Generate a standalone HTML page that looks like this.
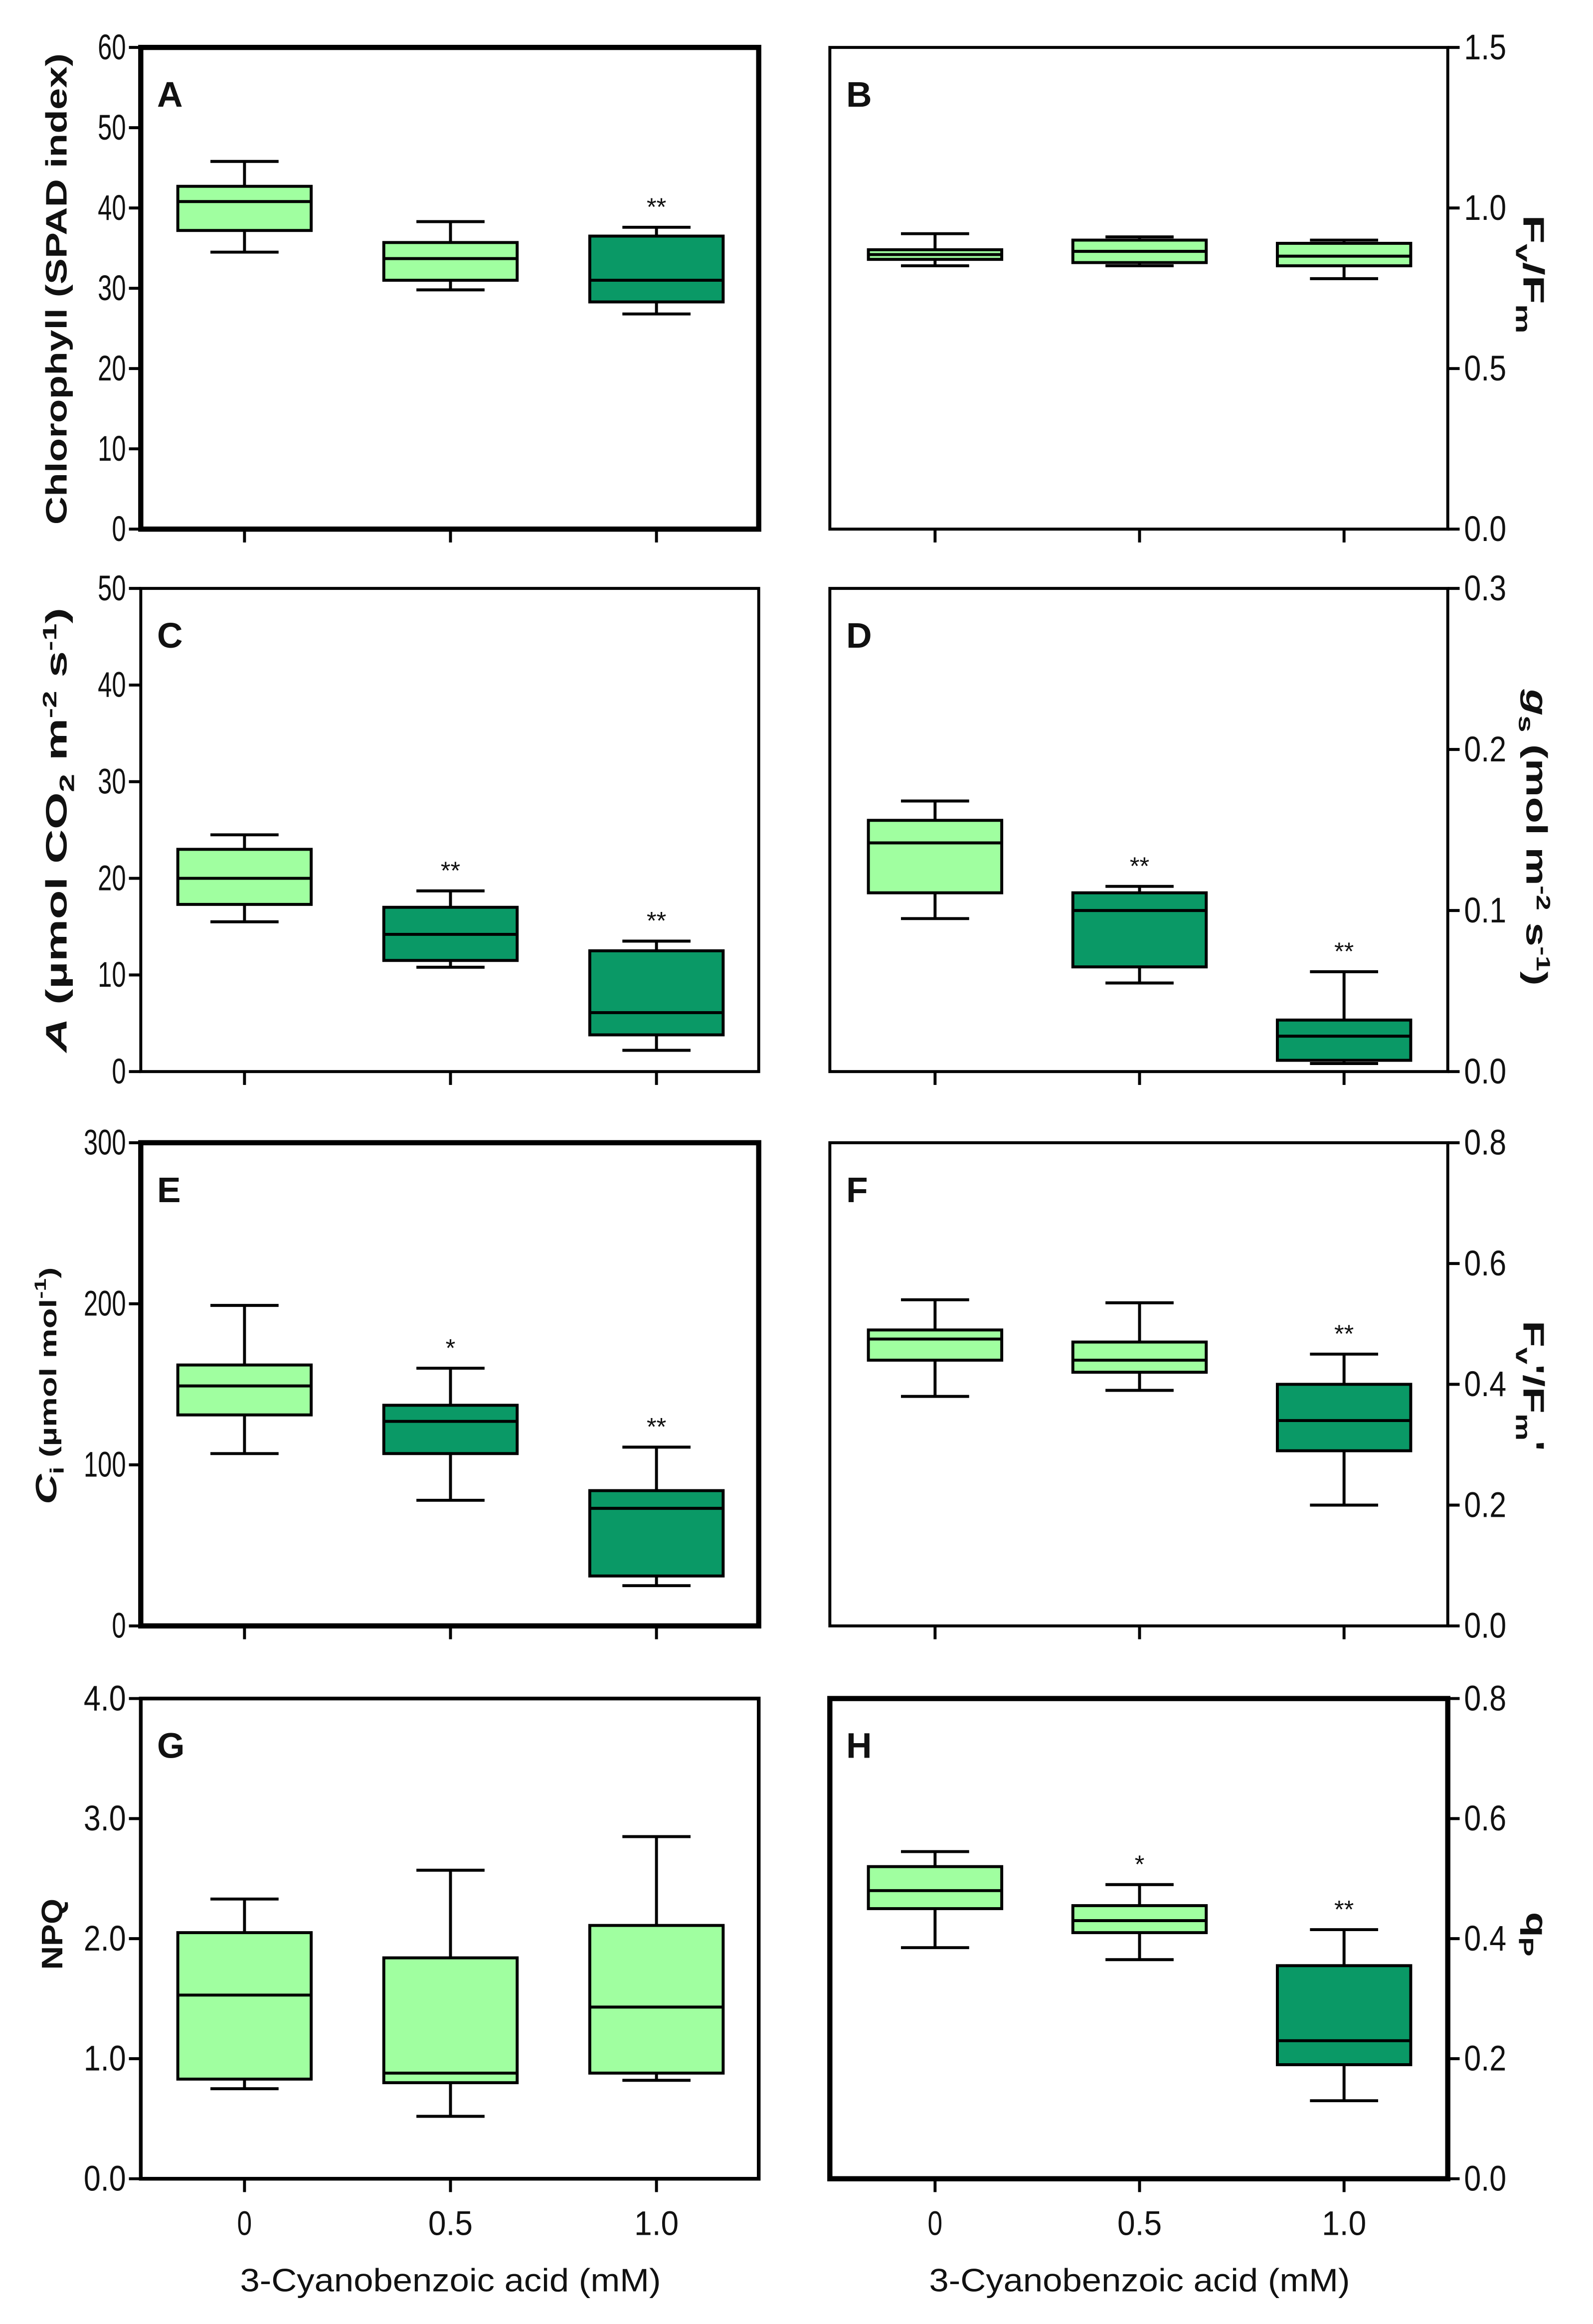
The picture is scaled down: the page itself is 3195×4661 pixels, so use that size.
<!DOCTYPE html>
<html><head><meta charset="utf-8"><style>
html,body{margin:0;padding:0;background:#fff;}
svg{display:block;}
text{font-family:"Liberation Sans",sans-serif;fill:#111;}
</style></head><body>
<svg id="fig" width="3195" height="4661" viewBox="0 0 1075 1568" preserveAspectRatio="none" xmlns="http://www.w3.org/2000/svg"></svg>
<script>
const categories = ["0", "0.5", "1.0"];
const panelIds = ["A","B","C","D","E","F","G","H"];
// each box: [whiskerLow, q1, median, q3, whiskerHigh]
const dataA = [[34.5,37.2,40.8,42.7,45.8],[29.8,31,33.7,35.7,38.3],[26.8,28.3,31,36.5,37.6]];
const dataB = [[0.82,0.84,0.855,0.87,0.92],[0.82,0.83,0.865,0.90,0.91],[0.78,0.82,0.85,0.89,0.90]];
const dataC = [[15.5,17.3,20,23,24.5],[10.8,11.5,14.2,17,18.7],[2.2,3.8,6.1,12.5,13.5]];
const dataD = [[0.095,0.111,0.142,0.156,0.168],[0.055,0.065,0.1,0.111,0.115],[0.005,0.007,0.022,0.032,0.062]];
const dataE = [[107,131,149,162,199],[78,107,127,137,160],[25,31,73,84,111]];
const dataF = [[0.38,0.44,0.475,0.49,0.54],[0.39,0.42,0.44,0.47,0.535],[0.2,0.29,0.34,0.40,0.45]];
const dataG = [[0.75,0.83,1.53,2.05,2.33],[0.52,0.8,0.88,1.84,2.57],[0.82,0.88,1.43,2.11,2.85]];
const dataH = [[0.385,0.45,0.48,0.52,0.545],[0.365,0.41,0.43,0.455,0.49],[0.13,0.19,0.23,0.355,0.415]];
const darkA=[0,0,1], darkB=[0,0,0], darkC=[0,1,1], darkD=[0,1,1], darkE=[0,1,1], darkF=[0,0,1], darkG=[0,0,0], darkH=[0,0,1];
const starsA=["","","**"], starsB=["","",""], starsC=["","**","**"], starsD=["","**","**"], starsE=["","*","**"], starsF=["","","**"], starsG=["","",""], starsH=["","*","**"];
const ticksA=["0","10","20","30","40","50","60"];
const ticksB=["0.0","0.5","1.0","1.5"];
const ticksC=["0","10","20","30","40","50"];
const ticksD=["0.0","0.1","0.2","0.3"];
const ticksE=["0","100","200","300"];
const ticksF=["0.0","0.2","0.4","0.6","0.8"];
const ticksG=["0.0","1.0","2.0","3.0","4.0"];
const ticksH=["0.0","0.2","0.4","0.6","0.8"];

const NS="http://www.w3.org/2000/svg";
const svg=document.getElementById('fig');
function mk(tag,attrs,parent,txt){const e=document.createElementNS(NS,tag);for(const k in attrs)e.setAttribute(k,attrs[k]);if(txt!==undefined)e.textContent=txt;(parent||svg).appendChild(e);return e;}

const cols={L:{x0:95,x1:512,cx:[165,304,443]},R:{x0:560,x1:977,cx:[631,769,907]}};
const rows=[[32,357],[397,723],[771,1097],[1146,1470]];
const panels=[
 {id:"A",col:"L",row:0,data:dataA,dark:darkA,stars:starsA,ticks:ticksA,max:60,thick:3.5},
 {id:"B",col:"R",row:0,data:dataB,dark:darkB,stars:starsB,ticks:ticksB,max:1.5,thick:2},
 {id:"C",col:"L",row:1,data:dataC,dark:darkC,stars:starsC,ticks:ticksC,max:50,thick:2},
 {id:"D",col:"R",row:1,data:dataD,dark:darkD,stars:starsD,ticks:ticksD,max:0.3,thick:2},
 {id:"E",col:"L",row:2,data:dataE,dark:darkE,stars:starsE,ticks:ticksE,max:300,thick:3.5},
 {id:"F",col:"R",row:2,data:dataF,dark:darkF,stars:starsF,ticks:ticksF,max:0.8,thick:2},
 {id:"G",col:"L",row:3,data:dataG,dark:darkG,stars:starsG,ticks:ticksG,max:4,thick:2.5},
 {id:"H",col:"R",row:3,data:dataH,dark:darkH,stars:starsH,ticks:ticksH,max:0.8,thick:3.5}
];
panels.forEach(p=>{
 const c=cols[p.col],[yt,yb]=rows[p.row];
 const y=v=>yb-(v/p.max)*(yb-yt);
 const g=mk('g',{});
 
 
 const fr=mk('rect',{x:c.x0,y:yt,width:c.x1-c.x0,height:yb-yt,fill:'none',stroke:'#000','stroke-width':p.thick},g);
 
 
 const lt=mk('text',{x:c.x0+11,y:yt+40,'font-size':24,'font-weight':'bold'},g,p.id);
 
 
 p.ticks.forEach((t,i)=>{
  const v=i*p.max/(p.ticks.length-1), yy=y(v);
  if(p.col==="L"){
   mk('line',{x1:c.x0-8,x2:c.x0,y1:yy,y2:yy,stroke:'#000','stroke-width':2},g);
   const tl=mk('text',{x:c.x0-10,y:yy+8,'font-size':24,'text-anchor':'end',textLength:t.length*9.5,lengthAdjust:'spacingAndGlyphs',fill:'#333'},g,t);
   
   
  }else{
   mk('line',{x1:c.x1,x2:c.x1+8,y1:yy,y2:yy,stroke:'#000','stroke-width':2},g);
   const tl=mk('text',{x:c.x1+11,y:yy+8,'font-size':24,textLength:t.length*9.5,lengthAdjust:'spacingAndGlyphs',fill:'#333'},g,t);
   
   
  }
 });
 p.data.forEach((d,i)=>{
  const cx=c.cx[i];
  mk('line',{x1:cx,x2:cx,y1:yb,y2:yb+9,stroke:'#000','stroke-width':2},g);
  mk('line',{x1:cx,x2:cx,y1:y(d[0]),y2:y(d[1]),stroke:'#000','stroke-width':2},g);
  mk('line',{x1:cx,x2:cx,y1:y(d[3]),y2:y(d[4]),stroke:'#000','stroke-width':2},g);
  mk('line',{x1:cx-23,x2:cx+23,y1:y(d[0]),y2:y(d[0]),stroke:'#000','stroke-width':2},g);
  mk('line',{x1:cx-23,x2:cx+23,y1:y(d[4]),y2:y(d[4]),stroke:'#000','stroke-width':2},g);
  const b=mk('rect',{x:cx-45,y:y(d[3]),width:90,height:y(d[1])-y(d[3]),fill:p.dark[i]?'#0a9966':'#a0ffa0',stroke:'#000','stroke-width':2},g);
  
  
  mk('line',{x1:cx-45,x2:cx+45,y1:y(d[2]),y2:y(d[2]),stroke:'#000','stroke-width':2},g);
  if(p.stars[i]){
   const s=mk('text',{x:cx,y:y(d[4])-8,'font-size':17,'text-anchor':'middle',fill:'#333'},g,p.stars[i]);
   
   
  }
  if(p.row===3){
   const xl=mk('text',{x:cx,y:1508,'font-size':23,'text-anchor':'middle',textLength:categories[i].length*10,lengthAdjust:'spacingAndGlyphs',fill:'#222'},g,categories[i]);
   
   
  }
 });
});
[304,769].forEach(cx=>{
 const t=mk('text',{x:cx,y:1546,'font-size':22,'text-anchor':'middle',textLength:284,lengthAdjust:'spacingAndGlyphs',fill:'#222'},svg,'3-Cyanobenzoic acid (mM)');
 
 
});
function ytitle(x,y,rot,html,name,len){
 const t=mk('text',{transform:`translate(${x},${y}) rotate(${rot})`,'font-size':20,'font-weight':'bold','text-anchor':'middle',textLength:len,lengthAdjust:'spacingAndGlyphs'},svg);
 t.innerHTML=html;
 
 
}
ytitle(45,195,-90,'Chlorophyll (SPAD index)','y-axis-title-chlorophyll',318);
ytitle(45,560,-90,'<tspan font-style="italic">A</tspan> (µmol CO<tspan font-size="14" dy="5">2</tspan><tspan dy="-5"> m</tspan><tspan font-size="13" dy="-7">-2</tspan><tspan dy="7"> s</tspan><tspan font-size="13" dy="-7">-1</tspan><tspan dy="7">)</tspan>','y-axis-title-a',300);
ytitle(38,935,-90,'<tspan font-style="italic">C</tspan><tspan font-size="13" dy="5">i</tspan><tspan dy="-5" font-size="16"> (µmol mol</tspan><tspan font-size="11" dy="-7">-1</tspan><tspan dy="7" font-size="16">)</tspan>','y-axis-title-ci',160);
ytitle(42,1305,-90,'NPQ','y-axis-title-npq',48);
ytitle(1028,185,90,'F<tspan font-size="14" dy="5">v</tspan><tspan dy="-5">/F</tspan><tspan font-size="14" dy="5">m</tspan>','y-axis-title-fvfm',80);
ytitle(1030,565,90,'<tspan font-style="italic">g</tspan><tspan font-size="14" dy="5">s</tspan><tspan dy="-5"> (mol m</tspan><tspan font-size="13" dy="-7">-2</tspan><tspan dy="7"> s</tspan><tspan font-size="13" dy="-7">-1</tspan><tspan dy="7">)</tspan>','y-axis-title-gs',200);
ytitle(1028,935,90,'F<tspan font-size="14" dy="5">v</tspan><tspan dy="-5">\'/F</tspan><tspan font-size="14" dy="5">m</tspan><tspan dy="-5">\'</tspan>','y-axis-title-fvfm-prime',88);
ytitle(1030,1305,90,'q<tspan font-size="14" dy="5">P</tspan>','y-axis-title-qp',30);
</script>
</body></html>
